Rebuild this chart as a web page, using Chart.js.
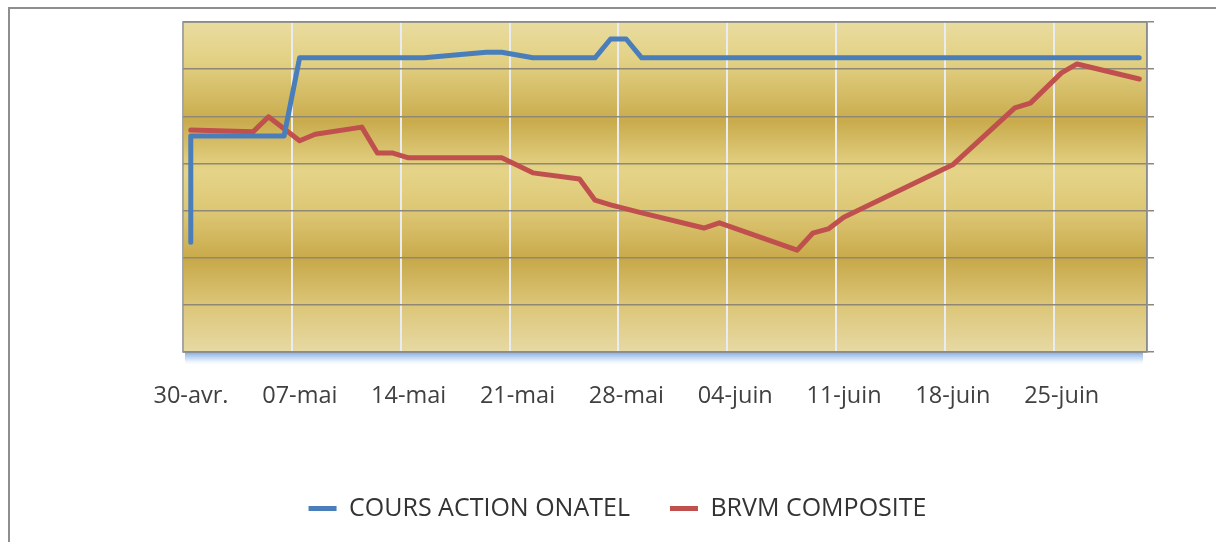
<!DOCTYPE html>
<html>
<head>
<meta charset="utf-8">
<script src="https://cdn.jsdelivr.net/npm/chart.js@4"></script>
<style>
  body { margin: 0; background: #fff; }
  #wrap { position: relative; width: 1216px; height: 542px; overflow: hidden; }
  #frame {
    position: absolute; left: 8px; top: 7px; width: 1300px; height: 700px;
    border-left: 2px solid #8e8e8e; border-top: 2px solid #8e8e8e;
    pointer-events: none;
  }
</style>
</head>
<body>
<div id="wrap">
  <canvas id="chart" width="1216" height="542"></canvas>
  <div id="frame"></div>
</div>
<script>
// day index counted from 30 avril
const tickDays = [0, 7, 14, 21, 28, 35, 42, 49, 56];
const tickLabels = ["30-avr.", "07-mai", "14-mai", "21-mai", "28-mai", "04-juin", "11-juin", "18-juin", "25-juin"];

const onatelDays = [0, 0, 6, 7, 15, 19, 20, 22, 26, 27, 28, 29, 61];
const onatelValues = [23.3, 45.8, 45.8, 62.4, 62.4, 63.6, 63.6, 62.4, 62.4, 66.4, 66.4, 62.4, 62.4];

const brvmDays = [0, 4, 5, 7, 8, 11, 12, 13, 14, 20, 22, 25, 26, 27, 29, 33, 34, 39, 40, 41, 42, 49, 53, 54, 56, 57, 61];
const brvmValues = [47.1, 46.7, 49.9, 44.8, 46.2, 47.7, 42.2, 42.2, 41.2, 41.2, 38.0, 36.7, 32.2, 31.2, 29.5, 26.3, 27.4, 21.6, 25.2, 26.1, 28.6, 39.7, 51.8, 52.8, 59.2, 61.1, 57.9];

function toPoints(days, values) {
  // points sit in the middle of each day slot
  return days.map((d, i) => ({ x: d + 0.5, y: values[i] }));
}

const plotBackground = {
  id: "plotBackground",
  beforeDraw(chart) {
    const { ctx, chartArea: a } = chart;
    ctx.save();

    // blue glow under the plot
    const glow = ctx.createLinearGradient(0, a.bottom, 0, a.bottom + 14);
    glow.addColorStop(0, "rgba(120,165,225,0.95)");
    glow.addColorStop(0.5, "rgba(160,195,238,0.5)");
    glow.addColorStop(1, "rgba(255,255,255,0)");
    ctx.fillStyle = glow;
    ctx.fillRect(a.left + 2, a.bottom, a.right - a.left - 6, 14);

    const g = ctx.createLinearGradient(0, a.top, 0, a.bottom);
    g.addColorStop(0, "#e9dc9f");
    g.addColorStop(0.12, "#e2d083");
    g.addColorStop(0.3, "#c9ab4c");
    g.addColorStop(0.45, "#e5d488");
    g.addColorStop(0.58, "#dcc673");
    g.addColorStop(0.72, "#c8a94a");
    g.addColorStop(0.86, "#dcc679");
    g.addColorStop(1, "#e6d9a3");
    ctx.fillStyle = g;
    ctx.fillRect(a.left, a.top, a.right - a.left, a.bottom - a.top);
    ctx.restore();
  },
  beforeDatasetsDraw(chart) {
    const { ctx, chartArea: a } = chart;
    ctx.save();
    ctx.strokeStyle = "#8d8d8d";
    ctx.lineWidth = 1.5;
    ctx.strokeRect(a.left, a.top, a.right - a.left, a.bottom - a.top);
    ctx.restore();
  }
};

new Chart(document.getElementById("chart"), {
  type: "line",
  data: {
    datasets: [
      {
        label: "COURS ACTION ONATEL",
        data: toPoints(onatelDays, onatelValues),
        yAxisID: "y",
        borderColor: "#4a7ebb",
        backgroundColor: "#4a7ebb",
        borderWidth: 5,
        pointRadius: 0,
        tension: 0,
        borderJoinStyle: "round",
        borderCapStyle: "round"
      },
      {
        label: "BRVM COMPOSITE",
        data: toPoints(brvmDays, brvmValues),
        yAxisID: "y",
        borderColor: "#c0504d",
        backgroundColor: "#c0504d",
        borderWidth: 5,
        pointRadius: 0,
        tension: 0,
        borderJoinStyle: "round",
        borderCapStyle: "round"
      }
    ]
  },
  options: {
    responsive: false,
    animation: false,
    layout: {
      padding: { left: 80, right: 61, top: 22, bottom: 11 }
    },
    plugins: {
      tooltip: { enabled: false },
      legend: {
        position: "bottom",
        labels: {
          usePointStyle: true,
          pointStyle: "line",
          pointStyleWidth: 28,
          boxWidth: 28,
          boxHeight: 25,
          padding: 40,
          color: "#333",
          font: { family: "'Open Sans', sans-serif", size: 25 }
        }
      }
    },
    scales: {
      x: {
        type: "linear",
        min: 0,
        max: 62,
        afterBuildTicks: s => { s.ticks = tickDays.map(v => ({ value: v })); },
        afterFit: s => { s.height = 104; },
        grid: { color: "#e9edf3", lineWidth: 2, drawTicks: false },
        border: { display: false },
        ticks: {
          callback: (v) => tickLabels[tickDays.indexOf(v)],
          labelOffset: 8,
          padding: 30,
          maxRotation: 0,
          autoSkip: false,
          color: "#404040",
          font: { family: "'Open Sans', sans-serif", size: 23.5 }
        }
      },
      yLeft: {
        position: "left",
        min: 0,
        max: 70,
        afterFit: s => { s.width = 103; },
        grid: { display: false },
        border: { display: false },
        ticks: { display: false }
      },
      y: {
        position: "right",
        min: 0,
        max: 70,
        afterFit: s => { s.width = 8; },
        grid: { color: "#8e8875", lineWidth: 1.5, drawTicks: true, tickLength: 7 },
        border: { display: true, color: "#8d8d8d", width: 1.5 },
        ticks: { stepSize: 10, display: false }
      }
    }
  },
  plugins: [plotBackground]
});
</script>
</body>
</html>
